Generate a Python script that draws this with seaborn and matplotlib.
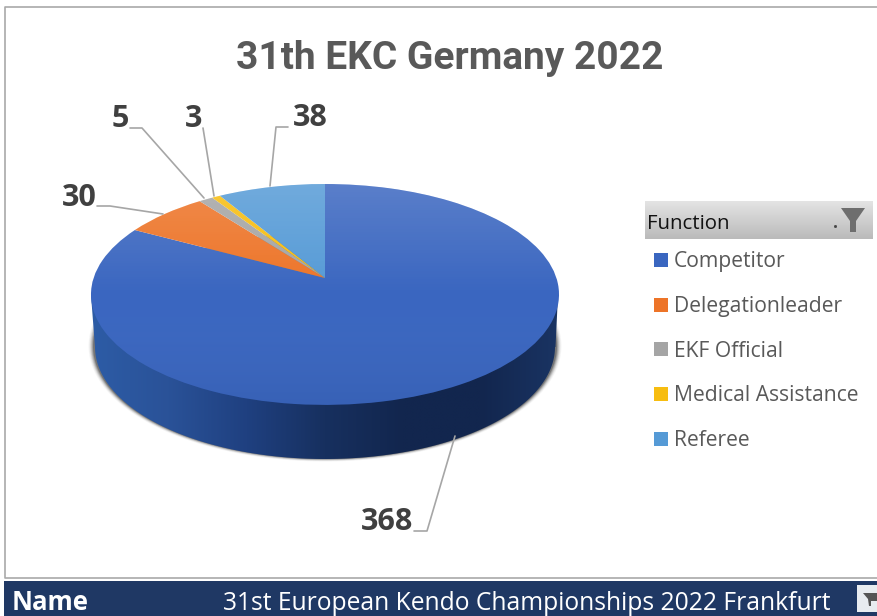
import matplotlib
matplotlib.use("Agg")
import matplotlib.pyplot as plt
import matplotlib.transforms as mtransforms
from matplotlib.patches import Circle, Polygon, Rectangle
import numpy as np
import seaborn as sns

# dados do grafico
funcoes = ["Competitor", "Delegationleader", "EKF Official", "Medical Assistance", "Referee"]
valores = [368, 30, 5, 3, 38]
titulo = "31th EKC Germany 2022"
rodape_nome = "Name"
rodape_valor = "31st European Kendo Championships 2022 Frankfurt"
legenda_titulo = "Function"

# posicoes dos rotulos e das linhas de chamada, em pixels
pos_rotulos = [(387, 522), (79, 198), (120, 119), (194, 119), (310, 118)]
chamadas = [
    [(414, 531), (427, 531), (455, 436)],
    [(97, 206), (110, 206), (163, 214)],
    [(130, 128), (142, 128), (204, 198)],
    [(203, 128), (214, 196)],
    [(288, 127), (276, 127), (270, 186)],
]

sns.set_theme(style="white")
plt.rcParams["font.family"] = ["Open Sans", "DejaVu Sans"]
paleta = sns.color_palette(["#3a66c0", "#ed7428", "#a5a5a5", "#f7bd10", "#559ad6"])


class Perspectiva(mtransforms.Transform):
    # leva o disco unitario para a elipse em perspectiva do topo da pizza
    input_dims = 2
    output_dims = 2

    def transform_non_affine(self, xy):
        xy = np.asarray(xy, dtype=float)
        w = 1 + 0.149 * xy[:, 1]
        return np.column_stack([325 + 231.4 * xy[:, 0] / w, 278 - 108 * xy[:, 1] / w])


def gradiente(ax, extent, cores, vertical=True, zorder=1, clip=None):
    cores = np.array([matplotlib.colors.to_rgba(c) for c in cores])
    pos = np.linspace(0, 1, len(cores))
    t = np.linspace(0, 1, 256)
    img = np.stack([np.interp(t, pos, cores[:, i]) for i in range(4)], axis=1)
    img = img[:, None, :] if vertical else img[None, :, :]
    im = ax.imshow(img, extent=extent, aspect="auto", zorder=zorder, interpolation="bilinear")
    if clip is not None:
        im.set_clip_path(clip)
    return im


def elipse_inferior(rx, ry, cy, cx=325):
    t = np.linspace(np.pi, 0, 200)
    return np.column_stack([cx + rx * np.cos(t), cy + ry * np.sin(t)])


fig = plt.figure(figsize=(8.77, 6.16), dpi=100)
ax = fig.add_axes([0, 0, 1, 1])

fatias, _ = ax.pie(valores, colors=paleta, startangle=90, counterclock=False,
                   wedgeprops={"linewidth": 0, "zorder": 5})
persp = Perspectiva() + ax.transData
for fatia in fatias:
    fatia.set_transform(persp)

# sombra e parede lateral
for k, a in zip([5, 4, 3, 2, 1, 0], [0.04, 0.06, 0.1, 0.15, 0.2, 0.3]):
    t = np.linspace(0, 2 * np.pi, 200)
    ax.add_patch(Polygon(np.column_stack([325 + (232 + k * 0.9) * np.cos(t),
                                          346 + (113 + k * 0.5) * np.sin(t)]),
                         facecolor="#222222", edgecolor="none", alpha=a, zorder=2))

parede = np.vstack([[(91, 295), (558, 295), (555.5, 347)],
                    elipse_inferior(230, 112, 347)[::-1],
                    [(95, 347)]])
parede_patch = Polygon(parede, facecolor="none", edgecolor="none", zorder=3)
ax.add_patch(parede_patch)
gradiente(ax, (90, 560, 470, 290),
          ["#2d5ca6", "#2a5298", "#1f4080", "#17305f", "#12264e", "#12264e", "#1a3463"],
          vertical=False, zorder=3, clip=parede_patch)

# brilho no topo da pizza
disco = Circle((0, 0), 1, facecolor="none", edgecolor="none", zorder=6, transform=persp)
ax.add_patch(disco)
gradiente(ax, (85, 565, 410, 180),
          [(1, 1, 1, 0.17), (1, 1, 1, 0), (0, 0, 0, 0.06)], zorder=6, clip=disco)

# moldura do grafico
ax.plot([877, 5, 5, 877], [7, 7, 578, 578], color="#a9a9a9", lw=1.2, zorder=7)

ax.text(450, 69, titulo, ha="center", va="baseline", fontsize=28, fontweight="bold",
        family=["Roboto", "DejaVu Sans"], color="#595959", zorder=8)

# rotulos de valores
for valor, (x, y), linha in zip(valores, pos_rotulos, chamadas):
    ax.plot(*zip(*linha), color="#a6a6a6", lw=1.2, zorder=7)
    ax.text(x, y, str(valor), ha="center", va="center", fontsize=22, fontweight="bold",
            color="#404040", zorder=8)

# legenda
gradiente(ax, (645, 873, 239, 201), ["#e4e4e4", "#bababa"], zorder=3)
ax.text(647, 224, legenda_titulo, ha="left", va="center", fontsize=14.7, color="#111111", zorder=8)
ax.add_patch(Polygon([(841, 208), (865, 208), (856, 221), (856, 232), (850, 232), (850, 221)],
                     facecolor="#6e6e6e", edgecolor="none", zorder=8))
ax.plot([835], [226], marker="s", ms=1, color="#444444", zorder=8)
ax.legend(fatias, funcoes, loc="upper left", bbox_to_anchor=(647, 244), bbox_transform=ax.transData,
          frameon=False, fontsize=15.2, labelspacing=1.12, handlelength=0.65, handleheight=0.65,
          handletextpad=0.26, labelcolor="#595959", borderpad=0.35, borderaxespad=0)

# barra do rodape
ax.add_patch(Rectangle((4, 581), 873, 35, facecolor="#1f3864", edgecolor="none", zorder=3))
ax.text(12, 603, rodape_nome, ha="left", va="center", fontsize=18.5, fontweight="bold", color="white", zorder=8)
ax.text(223, 603, rodape_valor, ha="left", va="center", fontsize=17.7, color="white", zorder=8)
ax.add_patch(Rectangle((857, 585), 20, 27, facecolor="#e8ecf0", edgecolor="none", zorder=4))
ax.add_patch(Polygon([(863, 593), (877, 593), (877, 601), (871, 601), (871, 606), (869, 606), (868, 599)],
                     facecolor="#555555", edgecolor="none", zorder=5))

ax.set_aspect("auto")
ax.set_xlim(0, 877)
ax.set_ylim(616, 0)
ax.axis("off")

fig.savefig("out.png", dpi=100, facecolor="white")
